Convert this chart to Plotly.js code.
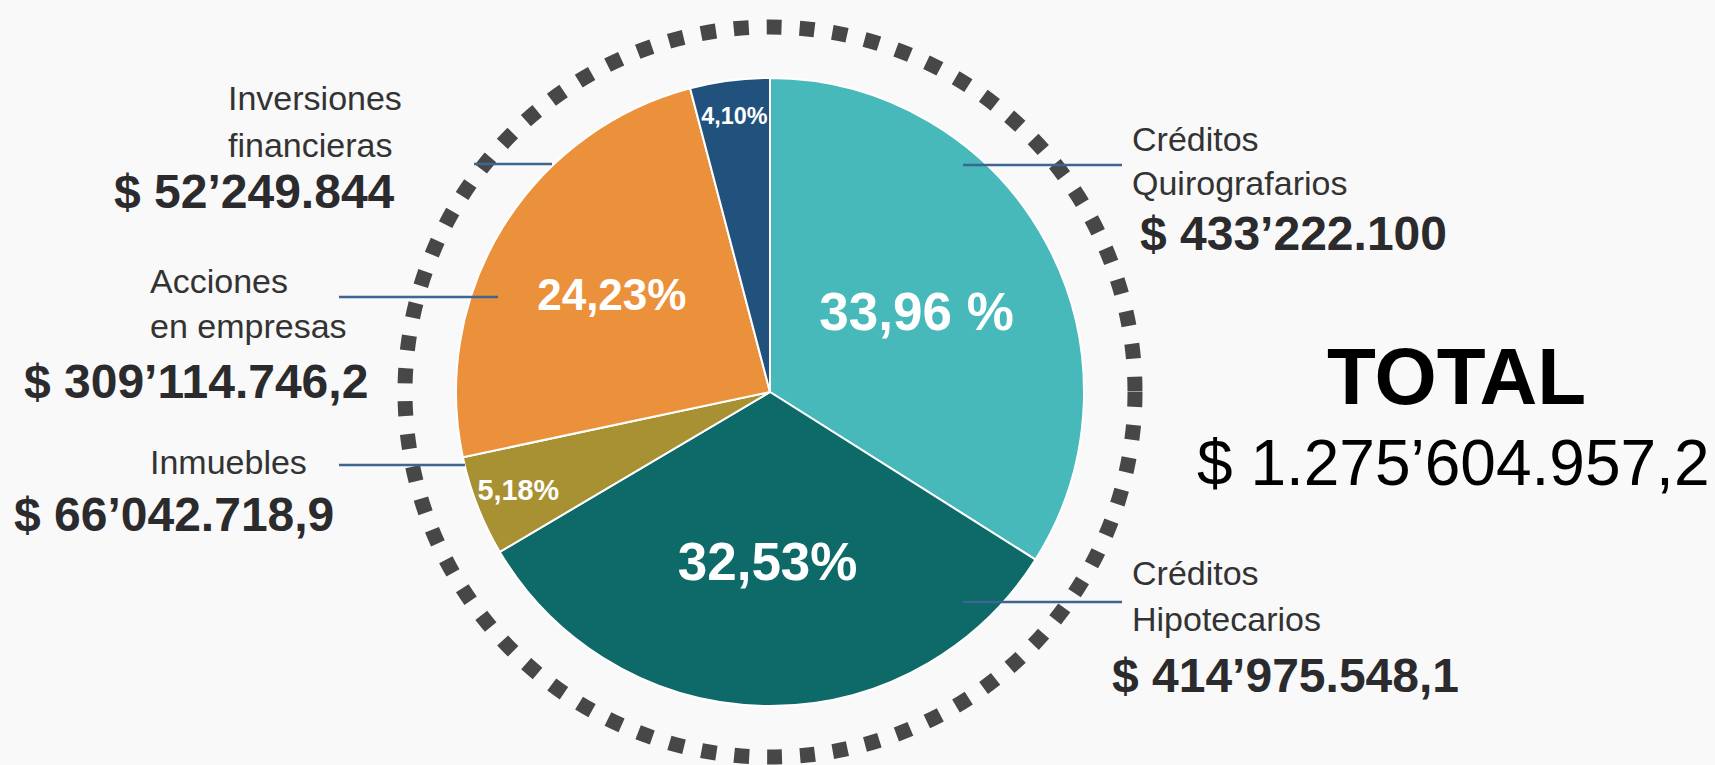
<!DOCTYPE html>
<html>
<head>
<meta charset="utf-8">
<script src="https://cdn.plot.ly/plotly-3.0.1.min.js"></script>
<style>
  html, body { margin: 0; padding: 0; background: #f9f9f9; }
  #chart { width: 1715px; height: 765px; }
</style>
</head>
<body>
<div id="chart"></div>
<script>
// ---- Data ----
const categories = ['Créditos Quirografarios', 'Créditos Hipotecarios', 'Inmuebles', 'Acciones en empresas', 'Inversiones financieras'];
const amounts = [433222100, 414975548.1, 66042718.9, 309114746.2, 52249844];
const amountLabels = ['$ 433’222.100', '$ 414’975.548,1', '$ 66’042.718,9', '$ 309’114.746,2', '$ 52’249.844'];
const pctLabels = ['33,96 %', '32,53%', '5,18%', '24,23%', '4,10%'];
const nameLines = [['Créditos', 'Quirografarios'], ['Créditos', 'Hipotecarios'], ['Inmuebles'], ['Acciones', 'en empresas'], ['Inversiones', 'financieras']];
const totalTitle = 'TOTAL';
const totalLabel = '$ 1.275’604.957,2';

// ---- Styles / layout positions ----
const colors = ['#47b9ba', '#0d6a69', '#a89133', '#ec913b', '#21527d'];
const pctSizes = [53, 53, 40, 44, 36];
const W = 1715, H = 765;
const px = x => x / W;
const py = y => 1 - y / H;
const FONT = 'Liberation Sans, Arial, Helvetica, sans-serif';

const cx = 770, cy = 392, R = 314, ringR = 365;

const trace = {
  type: 'pie',
  labels: categories,
  values: amounts,
  text: pctLabels,
  textinfo: 'text',
  textposition: 'inside',
  insidetextorientation: 'horizontal',
  textfont: { family: FONT, size: pctSizes, color: '#ffffff', weight: 700 },
  marker: { colors: colors, line: { color: '#ffffff', width: 2 } },
  sort: false,
  direction: 'clockwise',
  rotation: 0,
  showlegend: false,
  hoverinfo: 'label+value+text',
  domain: { x: [px(cx - R), px(cx + R)], y: [py(cy + R), py(cy - R)] }
};

// label block positions: name lines (left-anchored) and amount [x, y, anchor]
const blocks = [
  { names: [[1130, 139], [1130, 183]], amt: [1138, 233, 'left'] },
  { names: [[1130, 573], [1130, 619]], amt: [1110, 675, 'left'] },
  { names: [[148, 462]], amt: [12, 514, 'left'] },
  { names: [[148, 281], [148, 326]], amt: [22, 381, 'left'] },
  { names: [[226, 98], [226, 145]], amt: [397, 191, 'right'] }
];

const annotations = [];
categories.forEach((c, i) => {
  const b = blocks[i];
  nameLines[i].forEach((t, j) => {
    annotations.push({
      xref: 'paper', yref: 'paper', x: px(b.names[j][0]), y: py(b.names[j][1]),
      xanchor: 'left', yanchor: 'middle', showarrow: false, text: t,
      font: { family: FONT, size: 34, color: '#333333' }
    });
  });
  annotations.push({
    xref: 'paper', yref: 'paper', x: px(b.amt[0]), y: py(b.amt[1]),
    xanchor: b.amt[2], yanchor: 'middle', showarrow: false, text: amountLabels[i],
    font: { family: FONT, size: 48, color: '#2b2b2e', weight: 700 }
  });
});
annotations.push({
  xref: 'paper', yref: 'paper', x: px(1456), y: py(376), xanchor: 'center', yanchor: 'middle',
  showarrow: false, text: totalTitle, font: { family: FONT, size: 80, color: '#000000', weight: 700 }
});
annotations.push({
  xref: 'paper', yref: 'paper', x: px(1453), y: py(463), xanchor: 'center', yanchor: 'middle',
  showarrow: false, text: totalLabel, font: { family: FONT, size: 64, color: '#000000' }
});

const leaders = [
  [963, 1122, 165],
  [963, 1122, 602],
  [339, 465, 465],
  [339, 498, 297],
  [474, 552, 164]
];

const shapes = [{
  type: 'circle', xref: 'paper', yref: 'paper', layer: 'above',
  x0: px(cx - ringR), x1: px(cx + ringR), y0: py(cy + ringR), y1: py(cy - ringR),
  line: { color: '#474747', width: 15, dash: '15px,18px' }
}];
leaders.forEach(l => shapes.push({
  type: 'line', xref: 'paper', yref: 'paper', layer: 'above',
  x0: px(l[0]), x1: px(l[1]), y0: py(l[2]), y1: py(l[2]),
  line: { color: '#3d6690', width: 2.5 }
}));

const layout = {
  width: W, height: H,
  margin: { l: 0, r: 0, t: 0, b: 0 },
  paper_bgcolor: '#f9f9f9',
  plot_bgcolor: '#f9f9f9',
  showlegend: false,
  annotations: annotations,
  shapes: shapes
};

Plotly.newPlot('chart', [trace], layout, { displayModeBar: false, staticPlot: true });
</script>
</body>
</html>
